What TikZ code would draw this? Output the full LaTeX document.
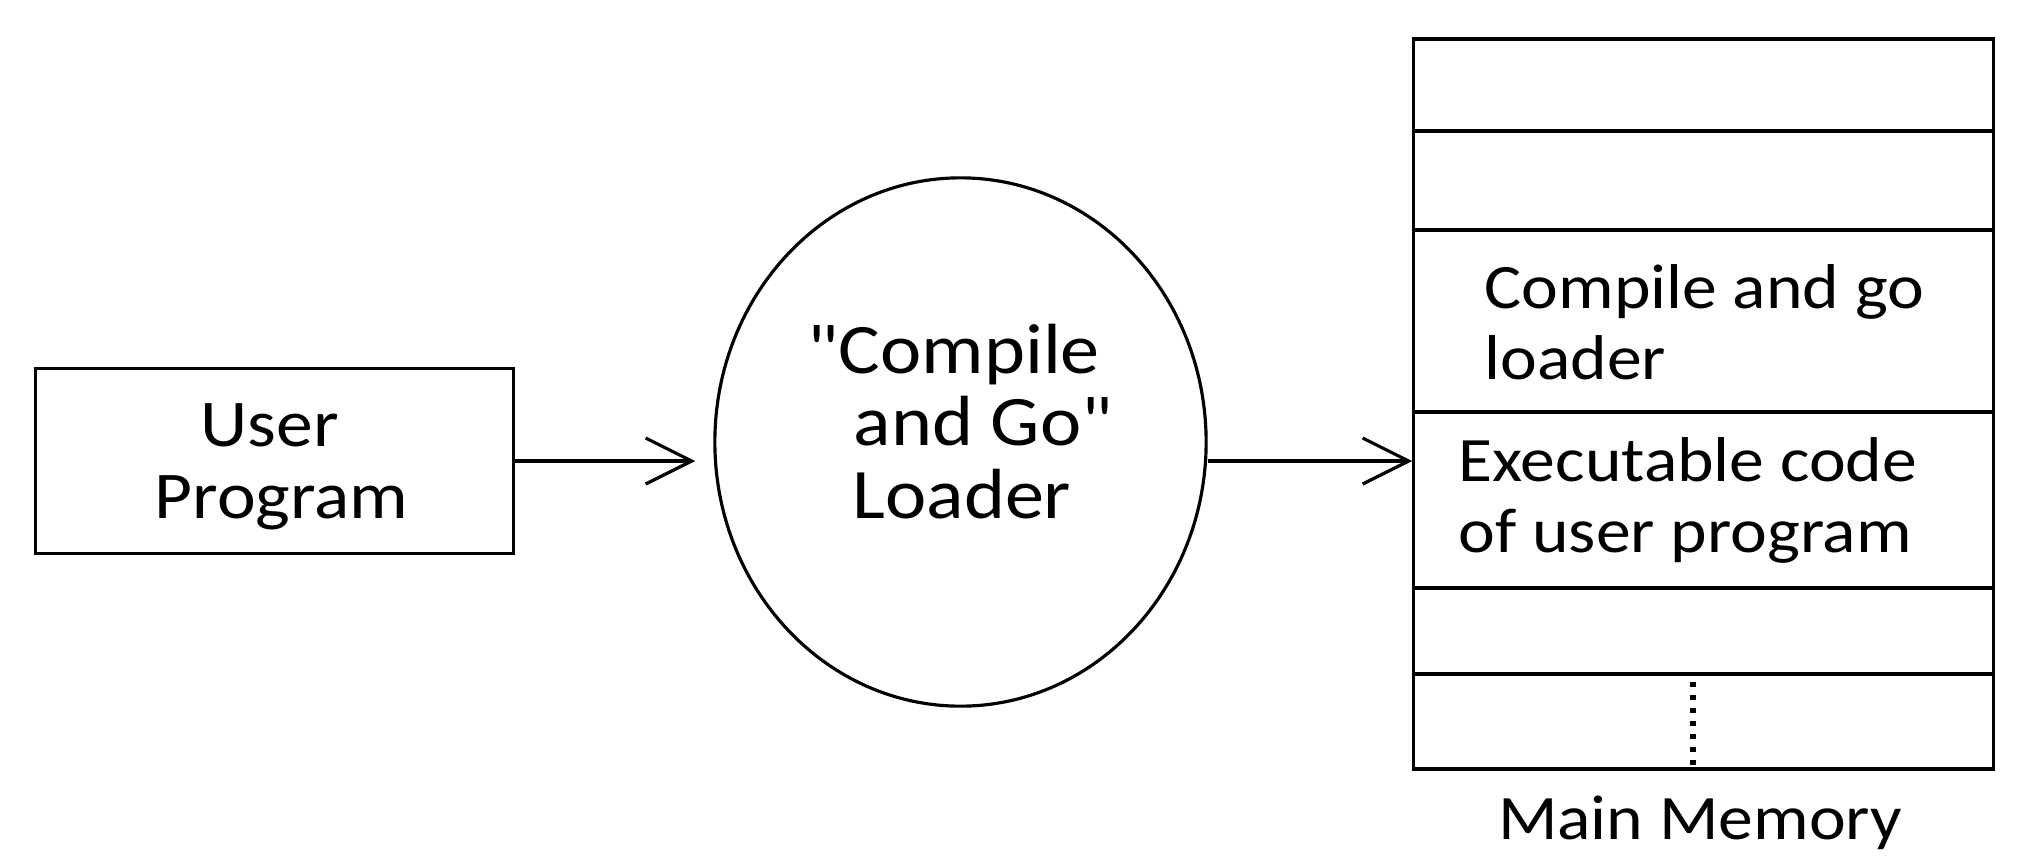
\documentclass[tikz,border=0pt]{standalone}
\usepackage{fontspec}
\setmainfont{Carlito}[FakeStretch=1.1, Ligatures=TeXOff]
\usetikzlibrary{arrows.meta,shapes.geometric}
\begin{document}
\begin{tikzpicture}[x=0.01cm,y=-0.01cm,
  line width=0.9pt,
  txt/.style={font=\fontsize{18}{20.2}\selectfont, inner sep=0pt, align=center},
  line/.style={inner sep=0pt, anchor=base west},
  box/.style={draw, rectangle, inner sep=0pt},
  cell/.style={draw, rectangle, inner sep=0pt, minimum width=5.79cm},
  arr/.style={-{Straight Barb[length=0.46cm, width=0.46cm]}},
  dotline/.style={line width=0.055cm, dash pattern=on 0.05cm off 0.08cm}]

% canvas
\useasboundingbox (0,0) rectangle (2017,866);
\fill[white] (0,0) rectangle (2017,866);

% source program
\node[box, minimum width=4.77cm, minimum height=1.85cm] (user) at (274.5,461) {};
\node[line, font=\fontsize{19}{21}\selectfont] (user1) at (199,446) {User};
\node[line, font=\fontsize{19}{21}\selectfont] (user2) at (153,518) {Program};

% loader
\node[draw, ellipse, inner sep=0pt, minimum width=4.91cm, minimum height=5.28cm] (loader) at (960.5,442) {};
\node[line, font=\fontsize{20.2}{22}\selectfont] (ld1) at (806,373) {"Compile};
\node[line, font=\fontsize{20.2}{22}\selectfont] (ld2) at (852,445) {and Go"};
\node[line, font=\fontsize{20.2}{22}\selectfont] (ld3) at (851,518) {Loader};

% main memory cells
\node[cell, minimum height=0.92cm] (m1) at (1703.5,85) {};
\node[cell, minimum height=0.99cm] (m2) at (1703.5,180.5) {};
\node[cell, minimum height=1.82cm] (m3) at (1703.5,321) {};
\node[cell, minimum height=1.76cm] (m4) at (1703.5,500) {};
\node[cell, minimum height=0.86cm] (m5) at (1703.5,631) {};
\node[cell, minimum height=0.95cm] (m6) at (1703.5,721.5) {};

\node[txt, anchor=west, align=left] (m3txt) at (1483,322.5) {Compile and go\\loader};
\node[txt, anchor=west, align=left] (m4txt) at (1457,500) {Executable code\\of user program};
\node[txt, anchor=base] (memtxt) at (1700,839) {Main Memory};

% continuation dots
\coordinate (d1) at (1693,682);
\coordinate (d2) at (1693,766);
\draw[dotline] (d1) -- (d2);

% flow
\draw[arr, shorten >=0.18cm] (user.east) -- (user.east -| loader.west);
\draw[arr] (user.east -| loader.east) -- (user.east -| m4.west);
\end{tikzpicture}
\end{document}
